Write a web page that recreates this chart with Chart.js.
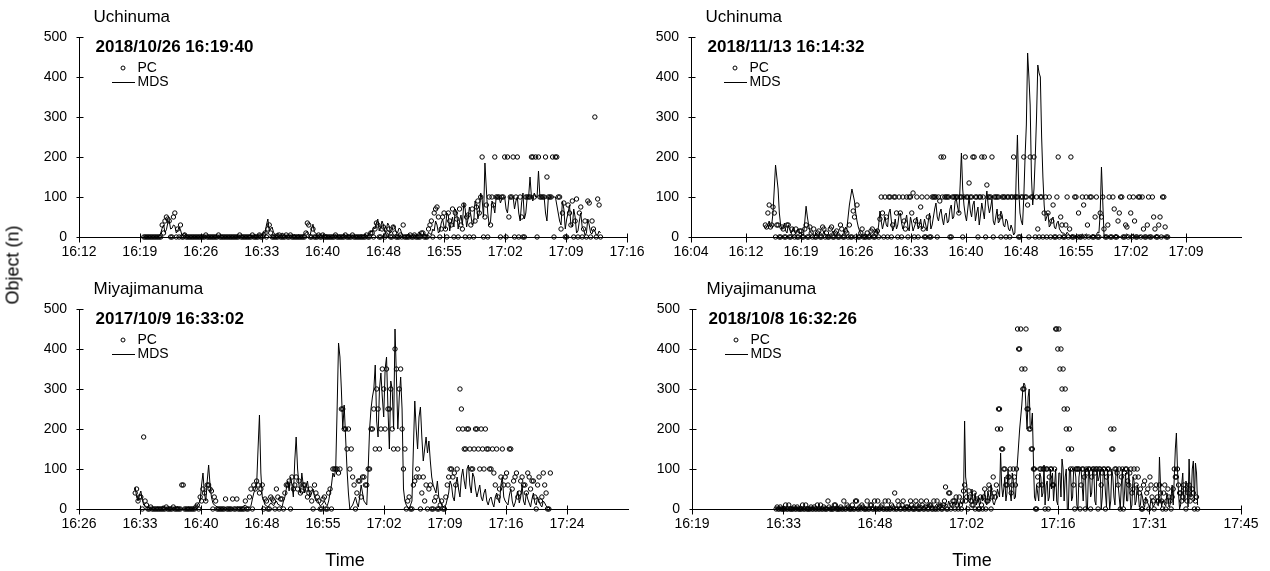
<!DOCTYPE html>
<html><head><meta charset="utf-8">
<script src="https://cdn.jsdelivr.net/npm/chart.js@4.4.1/dist/chart.umd.min.js"></script>
<style>
html,body{margin:0;padding:0;background:#fff;width:1270px;height:571px;overflow:hidden;position:relative;}
canvas{position:absolute;}
.lbl{position:absolute;font-family:"Liberation Sans",Arial,sans-serif;font-size:18px;color:#000;white-space:nowrap;transform:translate(-50%,-50%);}
.rot{transform:translate(-50%,-50%) rotate(-90deg);}
</style></head><body>
<canvas id="c1" width="660" height="272" style="left:0px;top:0px"></canvas>
<canvas id="c2" width="630" height="272" style="left:640px;top:0px"></canvas>
<canvas id="c3" width="660" height="299" style="left:0px;top:272px"></canvas>
<canvas id="c4" width="630" height="299" style="left:640px;top:272px"></canvas>
<div class="lbl rot" style="left:13px;top:265px">Object (n)</div>
<div class="lbl" style="left:345px;top:560px">Time</div>
<div class="lbl" style="left:972px;top:560px">Time</div>
<script>
// ---------- DATA ----------
// each series: samples every 20 s from the start time (…A), plus the samples 10 s later (…Mid)
const stepSec = 20;

// Panel 1: Uchinuma 2018/10/26
const title1 = "Uchinuma";
const date1 = "2018/10/26 16:19:40";
const start1 = "16:19:40";
const mds1 = [0,1,0,2,0,1,10,30,18,40,
22,28,15,18,8,3,1,0,2,1,
0,0,3,1,0,2,0,1,4,2,
0,1,0,2,1,3,0,2,5,3,
1,8,6,10,45,20,12,8,5,10,
6,3,5,4,2,6,3,8,15,5,
32,10,5,3,2,4,1,3,6,2,
0,8,3,2,5,1,3,6,4,2,
8,12,20,45,25,30,18,28,15,25,
10,20,5,3,8,2,6,4,10,3,
5,12,6,15,30,15,45,20,55,35,
25,60,40,30,70,45,55,35,80,60,
95,185,60,40,80,100,100,95,100,60,
100,100,90,60,85,45,100,150,90,100,
165,100,100,40,100,100,100,60,30,70,
45,80,25,50,15,60,20,10,30,8,
15,5,10];
const mds1Mid = [0,2,1,0,1,3,22,12,35,20,
30,10,25,5,10,2,0,1,0,3,
1,2,0,1,2,0,1,3,0,1,
2,0,1,0,3,1,2,4,1,6,
3,5,12,30,15,25,6,10,3,8,
2,4,1,6,3,1,5,10,6,20,
12,4,8,1,6,2,0,4,1,5,
3,2,6,1,2,4,1,3,8,5,
15,25,35,15,40,12,35,10,30,12,
22,8,4,6,1,5,3,12,2,8,
2,8,20,40,10,35,25,60,15,50,
70,20,55,85,25,75,30,90,45,110,
50,120,30,90,60,100,85,100,70,95,
100,70,100,40,110,60,100,100,110,100,
100,100,60,100,100,100,80,40,90,20,
60,30,70,10,40,25,5,45,10,20,
5,15,0];
const pc1 = [0,0,0,0,0,0,0,10,50,40,
0,60,20,30,0,0,0,0,0,0,
0,0,5,0,0,0,0,0,0,0,
0,0,0,0,5,0,0,0,0,0,
0,5,0,10,20,10,0,0,5,0,
0,0,5,0,0,0,0,0,35,0,
20,0,5,0,0,0,0,0,5,0,
0,0,0,0,5,0,0,0,0,5,
0,10,20,30,0,25,5,20,0,10,
0,5,30,0,0,0,5,0,0,10,
0,20,40,60,75,0,50,20,60,30,
0,45,70,20,0,55,30,0,75,60,
200,50,0,30,80,100,100,100,200,200,
100,200,100,0,50,0,100,100,200,200,
200,100,100,150,100,200,200,100,20,85,
0,60,90,40,0,75,20,0,85,40,
300,95,0];
const pc1Mid = [0,0,0,0,0,0,30,40,45,0,
50,0,0,0,5,0,0,0,0,0,
0,0,0,0,0,0,5,0,0,0,
0,0,0,0,0,0,0,0,5,0,
0,0,5,0,30,0,0,0,0,0,
5,0,0,0,0,0,0,10,30,0,
0,0,0,5,0,0,0,0,0,0,
0,5,0,0,0,0,0,0,0,0,
10,0,35,0,20,0,10,0,25,0,
0,0,0,0,5,0,0,0,10,0,
0,30,0,70,50,20,60,0,40,70,
60,0,30,80,50,0,70,40,90,100,
0,80,100,100,200,100,0,100,0,50,
100,0,200,100,0,100,100,200,100,0,
100,100,200,100,100,0,200,100,60,0,
80,30,0,95,60,0,40,90,0,20,
0,80,0];
const tickVals1 = [0.675,0.68,0.685,0.69,0.695,0.70,0.705,0.71,0.715,0.72];
const tickLabels1 = ["16:12","16:19","16:26","16:33","16:40","16:48","16:55","17:02","17:09","17:16"];

// Panel 2: Uchinuma 2018/11/13
const title2 = "Uchinuma";
const date2 = "2018/11/13 16:14:32";
const start2 = "16:14:32";
const mds2 = [20,30,25,60,180,120,30,25,15,30,
10,25,8,20,12,5,77,30,10,5,
10,3,8,15,5,2,6,10,4,8,
3,12,20,80,120,90,40,15,5,8,
3,10,5,12,8,65,20,50,25,70,
15,45,30,60,20,40,25,50,15,35,
20,45,25,30,40,20,50,85,40,70,
30,60,40,80,50,95,60,210,80,40,
100,50,90,60,30,85,45,115,60,95,
30,70,40,55,25,40,15,20,10,255,
60,30,200,460,330,80,200,430,400,150,
40,60,30,50,20,40,15,10,5,8,
3,0,2,5,0,3,8,2,0,4,
6,10,175,5,2,0,3,0,5,1,
0,2,8,0,3,0,1,5,0,2,
0,3,0,1,4,0,2,0,0];
const mds2Mid = [25,40,30,120,150,60,20,35,10,20,
15,12,18,8,6,40,50,15,8,2,
6,12,4,6,3,8,15,3,12,5,
8,25,50,100,105,60,25,8,3,6,
6,4,8,20,30,40,35,30,60,40,
25,20,55,35,30,55,15,35,25,50,
30,20,45,15,60,30,70,50,60,45,
55,35,70,45,90,75,130,120,55,70,
65,80,40,75,55,65,90,80,75,40,
50,35,65,30,45,20,30,5,150,120,
40,100,280,400,150,120,300,410,250,80,
50,25,45,25,35,20,10,8,12,3,
6,2,0,3,8,1,5,0,6,3,
12,60,90,3,0,4,2,6,1,0,
3,5,2,0,8,2,0,3,1,0,
5,0,2,6,1,0,3,1,0];
const pc2 = [30,60,25,75,0,30,0,20,0,30,
0,10,20,0,15,0,30,0,10,20,
0,15,0,20,10,0,25,0,15,0,
20,0,10,30,0,50,80,0,20,0,
10,0,20,0,15,45,60,100,0,100,
30,100,0,60,100,20,0,100,110,40,
0,75,20,0,50,0,100,100,100,200,
200,100,100,0,100,100,60,100,100,100,
135,100,200,100,100,200,200,130,100,200,
100,100,50,100,100,100,0,100,100,100,
0,100,100,80,200,100,0,20,100,0,
100,60,0,80,0,200,50,0,30,0,
200,0,100,60,0,80,100,0,100,0,
100,0,50,20,0,100,0,70,0,60,
100,0,25,100,0,40,0,100,100,0,
30,0,100,20,0,50,100,25,0];
const pc2Mid = [25,80,30,60,30,0,25,0,30,0,
20,0,0,15,0,20,0,25,0,0,
10,0,25,0,0,20,0,10,0,30,
0,15,0,0,65,0,0,10,0,0,
0,15,0,10,0,100,0,50,100,0,
100,60,100,0,40,100,100,60,0,100,
30,100,0,100,0,100,100,0,90,100,
100,100,0,100,100,100,100,0,200,100,
100,200,100,0,100,100,0,100,100,0,
100,100,0,100,0,100,100,200,100,0,
100,200,100,0,100,200,100,0,100,60,
0,100,40,0,100,0,30,0,100,20,
0,100,0,0,100,0,30,100,0,50,
0,60,100,0,30,0,100,0,40,100,
0,30,0,60,100,0,100,0,20,0,
100,0,50,0,30,0,100,0,0];
const tickVals2 = [0.67,0.675,0.68,0.685,0.69,0.695,0.70,0.705,0.71,0.715];
const tickLabels2 = ["16:04","16:12","16:19","16:26","16:33","16:40","16:48","16:55","17:02","17:09"];

// Panel 3: Miyajimanuma 2017/10/9
const title3 = "Miyajimanuma";
const date3 = "2017/10/9 16:33:02";
const start3 = "16:33:02";
const mds3 = [55,20,45,10,5,2,3,0,5,2,
8,1,4,0,3,6,2,0,2,5,
1,3,10,20,90,20,110,30,10,5,
2,0,4,1,3,0,6,2,5,10,
3,8,40,60,235,30,10,5,15,8,
20,10,5,30,70,80,30,180,60,90,
40,70,30,50,20,15,10,20,8,40,
90,100,415,300,260,100,0,10,30,5,
60,20,10,200,280,360,180,340,230,380,
150,300,450,200,330,50,10,0,20,270,
150,255,120,180,170,80,50,70,20,5,
10,40,60,20,80,30,100,50,110,40,
80,30,60,20,50,10,30,5,40,15,
80,20,10,50,5,30,15,60,10,25,
5,40,10,20,5,15,3,0];
const mds3Mid = [30,35,25,8,3,1,0,2,3,6,
4,2,1,2,4,3,0,1,3,2,
0,5,15,60,40,70,60,15,8,3,
1,2,0,3,1,2,4,3,8,6,
5,25,50,150,90,20,8,10,12,15,
12,8,20,50,45,60,120,100,40,60,
55,45,40,30,25,8,15,12,20,60,
80,250,380,200,180,40,5,20,15,30,
40,15,100,250,300,220,300,280,350,250,
320,200,330,280,250,20,5,10,150,200,
230,180,150,140,120,60,40,30,10,8,
25,70,30,60,50,80,70,100,60,90,
50,45,30,40,20,25,15,30,25,60,
30,15,35,20,15,45,30,20,40,15,
25,15,30,10,20,8,5,0];
const pc3 = [40,20,30,180,10,0,0,0,0,0,
0,5,0,0,0,0,0,60,0,0,
0,0,10,30,50,20,60,45,30,0,
0,0,25,0,0,0,25,0,0,20,
0,50,60,70,40,60,25,0,30,20,
50,0,25,40,60,0,50,80,70,45,
60,30,50,0,40,20,0,30,0,50,
100,100,90,250,200,150,100,80,0,70,
30,80,60,100,200,150,250,200,300,350,
250,200,400,150,350,100,0,30,0,70,
100,0,80,60,50,0,20,0,10,0,
30,80,100,90,100,300,200,150,200,100,
150,200,100,150,200,150,100,90,150,50,
150,80,60,150,70,90,40,80,60,90,
50,70,0,80,30,60,0,90];
const pc3Mid = [50,30,0,20,0,5,0,0,0,0,
0,0,0,5,0,0,60,0,0,0,
0,5,0,20,40,60,50,0,20,0,
0,0,0,0,25,0,0,0,0,0,
30,0,50,60,50,0,20,0,25,0,
30,25,0,60,70,80,60,50,40,60,
50,40,20,60,30,0,25,0,40,0,
100,100,100,250,200,200,150,60,40,70,
80,60,100,200,250,300,150,350,200,250,
300,150,350,300,200,150,20,0,60,80,
80,40,20,0,60,0,30,0,20,0,
60,100,80,60,200,250,150,200,150,100,
200,150,200,100,150,100,150,60,30,80,
60,90,150,50,80,30,70,60,40,80,
70,30,60,20,90,40,0,50];
const tickVals3 = [0.685,0.69,0.695,0.70,0.705,0.71,0.715,0.72,0.725];
const tickLabels3 = ["16:26","16:33","16:40","16:48","16:55","17:02","17:09","17:16","17:24"];

// Panel 4: Miyajimanuma 2018/10/8
const title4 = "Miyajimanuma";
const date4 = "2018/10/8 16:32:26";
const start4 = "16:32:26";
const mds4 = [2,0,1,3,0,2,1,0,4,1,
0,2,0,3,1,0,2,5,1,0,
3,1,2,0,4,2,1,0,3,6,
2,1,0,4,2,3,1,5,2,0,
3,1,6,2,4,1,3,0,5,2,
1,4,2,6,3,1,3,5,2,8,
4,6,3,10,5,7,4,12,6,8,
5,10,7,4,9,6,12,8,5,10,
15,8,12,6,18,10,14,20,12,220,
60,20,30,15,40,20,10,35,25,15,
45,20,30,10,25,40,140,30,80,40,
60,20,70,30,120,200,260,315,250,280,
200,240,30,60,20,80,40,10,70,30,
50,20,100,10,90,125,20,100,0,100,
30,100,10,80,100,20,100,0,90,40,
100,10,70,100,30,90,5,60,20,80,
10,100,30,60,5,90,20,50,10,70,
20,40,10,30,5,20,8,25,5,15,
10,130,5,20,8,30,10,60,80,190,
40,10,90,20,60,125,30,120,115,10];
const mds4Mid = [0,1,2,0,1,0,2,1,0,3,
1,0,2,1,0,3,0,1,2,0,
1,0,4,1,2,0,3,1,2,0,
4,0,1,2,0,1,3,0,2,1,
0,2,1,3,0,4,1,2,3,0,
2,1,4,2,5,2,4,1,6,3,
7,2,8,4,9,3,6,8,10,4,
8,5,12,6,3,10,5,14,8,6,
10,20,8,15,12,25,8,15,30,80,
25,15,50,25,10,30,15,20,45,10,
30,60,15,20,50,30,60,50,20,100,
40,90,25,80,160,230,300,310,200,300,
210,120,20,40,90,30,110,60,20,100,
90,60,20,90,30,100,80,0,100,20,
100,80,0,100,60,90,0,100,30,100,
20,100,80,0,100,40,100,0,100,30,
100,60,0,100,40,20,100,0,80,10,
60,5,40,10,30,15,5,20,10,25,
8,60,20,10,40,5,30,10,150,100,
0,60,20,70,5,30,100,20,90,0];
const pc4 = [0,0,5,0,0,0,10,0,0,0,
5,0,0,0,10,0,0,0,5,0,
0,10,0,0,0,5,0,0,10,0,
0,0,20,0,5,0,10,0,20,0,
0,5,0,20,0,10,0,0,20,0,
10,0,0,20,0,5,40,0,10,0,
20,0,5,0,10,0,20,0,0,10,
0,20,0,10,0,0,20,5,0,10,
55,0,40,10,20,30,0,10,20,60,
30,45,20,10,0,25,0,10,30,0,
20,50,30,40,60,250,200,150,100,60,
80,40,100,60,450,400,350,300,450,250,
200,150,100,0,60,100,100,0,100,80,
100,60,450,400,350,300,250,200,150,100,
100,0,100,100,60,100,0,90,100,80,
100,100,0,100,90,100,80,100,200,150,
100,90,100,80,0,100,70,90,40,100,
60,80,50,0,70,40,0,60,20,50,
30,60,20,40,0,50,20,30,100,80,
60,40,30,50,20,60,30,40,20,0];
const pc4Mid = [5,0,0,0,10,0,0,0,5,0,
0,0,10,0,0,0,5,0,0,10,
0,0,5,0,20,0,0,10,0,0,
5,0,0,10,0,0,0,20,0,5,
10,0,0,0,10,0,20,0,0,5,
0,20,0,0,10,0,0,20,0,10,
0,5,0,20,0,0,10,0,20,0,
5,0,10,0,20,0,0,10,0,20,
0,40,0,20,0,10,30,0,45,20,
0,30,10,40,20,0,30,0,50,20,
60,0,80,30,200,250,150,100,60,80,
100,60,80,100,400,450,300,350,250,200,
150,100,0,80,100,60,100,100,0,100,
60,100,450,450,400,350,300,250,200,150,
60,100,100,0,100,80,100,100,0,100,
90,100,100,60,100,0,100,90,150,200,
100,60,0,100,90,100,60,100,50,80,
100,40,0,60,20,50,80,30,0,60,
20,40,0,60,20,30,0,50,80,100,
40,20,60,0,40,20,50,0,30,0];
const tickVals4 = [0.68,0.69,0.70,0.71,0.72,0.73,0.74];
const tickLabels4 = ["16:19","16:33","16:48","17:02","17:16","17:31","17:45"];

// ---------- RENDER ----------
const FONT = '"Liberation Sans", Arial, sans-serif';
Chart.defaults.font.family = FONT;
Chart.defaults.color = '#000';

function toDay(hms){const p=hms.split(':').map(Number);return (p[0]*3600+p[1]*60+p[2])/86400;}
// merge the on-step samples and the half-step samples into one time-ordered list
function series(start, vals, mid){
  const t0 = toDay(start), out = [];
  vals.forEach((v,i)=>{
    out.push({x:t0+i*stepSec/86400, y:v});
    if (i < vals.length-1 && mid[i] !== undefined) out.push({x:t0+(i*stepSec+stepSec/2)/86400, y:mid[i]});
  });
  return out;
}

const deco = {
  id:'deco',
  afterDatasetsDraw(chart, args, o){
    const ctx = chart.ctx, a = chart.chartArea, xs = chart.scales.x, ys = chart.scales.y;
    ctx.save();
    ctx.strokeStyle = '#000'; ctx.lineWidth = 1;
    ctx.beginPath();
    const L = Math.round(a.left)+0.5, B = Math.round(a.bottom)+0.5;
    ctx.moveTo(L, a.top); ctx.lineTo(L, a.bottom+1);
    ctx.moveTo(a.left, B); ctx.lineTo(a.right+1, B);
    xs.ticks.forEach(t=>{const p=Math.round(xs.getPixelForValue(t.value))+0.5; ctx.moveTo(p,B-4); ctx.lineTo(p,B+5);});
    ys.ticks.forEach(t=>{const p=Math.round(ys.getPixelForValue(t.value))+0.5; ctx.moveTo(L-3,p); ctx.lineTo(L+4,p);});
    ctx.stroke();
    ctx.fillStyle = '#000';
    ctx.textBaseline = 'middle'; ctx.textAlign = 'left';
    ctx.font = '17px ' + FONT;
    ctx.fillText(o.title, a.left+14.5, a.top-19.5);
    ctx.font = 'bold 17px ' + FONT;
    ctx.fillText(o.date, a.left+16.5, a.top+10);
    // legend
    ctx.lineWidth = 1;
    ctx.beginPath(); ctx.arc(a.left+44, a.top+31, 2, 0, Math.PI*2); ctx.stroke();
    ctx.beginPath(); ctx.moveTo(a.left+33, Math.round(a.top+45)+0.5); ctx.lineTo(a.left+56, Math.round(a.top+45)+0.5); ctx.stroke();
    ctx.font = '14px ' + FONT;
    ctx.fillText('PC', a.left+58.5, a.top+31);
    ctx.fillText('MDS', a.left+58.5, a.top+45.5);
    ctx.restore();
  }
};

function makePanel(id, p){
  new Chart(document.getElementById(id), {
    type:'scatter',
    data:{datasets:[
      {label:'MDS', data:series(p.start,p.mds,p.mdsMid), showLine:true, borderColor:'#000', borderWidth:1, pointRadius:0, tension:0, clip:6},
      {label:'PC', data:series(p.start,p.pc,p.pcMid), showLine:false, pointStyle:'circle', pointRadius:2.2, borderWidth:1, borderColor:'#000', backgroundColor:'rgba(0,0,0,0)', clip:6}
    ]},
    options:{
      responsive:false, animation:false, devicePixelRatio:1, events:[],
      layout:{padding:{left:0, top:37, right:p.padR, bottom:0}},
      plugins:{legend:{display:false}, tooltip:{enabled:false}, deco:{title:p.title, date:p.date}},
      scales:{
        x:{type:'linear', min:p.min, max:p.max,
          grid:{display:false, drawTicks:false}, border:{display:false},
          afterBuildTicks:s=>{s.ticks = p.tickVals.map(v=>({value:v}));},
          afterFit:s=>{s.height = p.xH; s.paddingLeft = 0; s.paddingRight = 0;},
          ticks:{autoSkip:false, maxRotation:0, padding:7, font:{size:14}, color:'#000',
            callback:(v,i)=>p.tickLabels[i]}},
        y:{min:0, max:500,
          grid:{display:false, drawTicks:false}, border:{display:false},
          afterFit:s=>{s.width = p.yW; s.paddingTop = 0; s.paddingBottom = 0;},
          ticks:{stepSize:100, padding:12, font:{size:14}, color:'#000'}}
      }
    },
    plugins:[deco]
  });
}

makePanel('c1',{title:title1,date:date1,start:start1,mds:mds1,mdsMid:mds1Mid,pc:pc1,pcMid:pc1Mid,tickVals:tickVals1,tickLabels:tickLabels1,min:0.675,max:0.72,yW:79,xH:35,padR:33});
makePanel('c2',{title:title2,date:date2,start:start2,mds:mds2,mdsMid:mds2Mid,pc:pc2,pcMid:pc2Mid,tickVals:tickVals2,tickLabels:tickLabels2,min:0.67,max:0.72,yW:51,xH:35,padR:29});
makePanel('c3',{title:title3,date:date3,start:start3,mds:mds3,mdsMid:mds3Mid,pc:pc3,pcMid:pc3Mid,tickVals:tickVals3,tickLabels:tickLabels3,min:0.685,max:0.73,yW:79,xH:62,padR:32});
makePanel('c4',{title:title4,date:date4,start:start4,mds:mds4,mdsMid:mds4Mid,pc:pc4,pcMid:pc4Mid,tickVals:tickVals4,tickLabels:tickLabels4,min:0.68,max:0.74,yW:52,xH:62,padR:29});
</script>
</body></html>
